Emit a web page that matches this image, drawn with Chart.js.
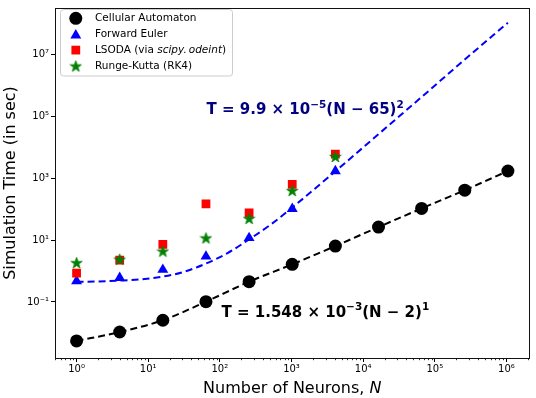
<!DOCTYPE html>
<html><head><meta charset="utf-8">
<script src="https://cdn.jsdelivr.net/npm/chart.js@4/dist/chart.umd.min.js"></script>
<style>html,body{margin:0;padding:0;background:#fff}#wrap{width:536px;height:398px}</style>
</head><body><div id="wrap"><canvas id="c" width="536" height="398"></canvas></div>
<script>
// ---- data ----
const neurons = [1, 4, 16, 64, 256, 1024, 4096, 16384, 65536, 262144, 1048576];
const odeNeurons = [1, 4, 16, 64, 256, 1024, 4096];
const cellularAutomaton = [0.0055, 0.0107, 0.0257, 0.102, 0.452, 1.64, 6.4, 26.3, 105, 407, 1700];
const forwardEuler = [0.47, 0.60, 1.10, 2.95, 11.7, 102, 1700];
const lsoda = [0.85, 2.24, 7.2, 148, 76, 631, 6000];
const rungeKutta = [1.86, 2.4, 4.4, 11.7, 50, 398, 5000];
const quadFitNeurons = [1, 2, 4, 8, 16, 32, 64, 128, 256, 512, 1024, 4096, 16384, 65536, 262144, 1048576];
const quadFitTime = [0.45, 0.46, 0.49, 0.54, 0.66, 0.95, 1.74, 3.8, 10.5, 31.6, 112, 1660, 26300, 417000, 6.76e6, 1.05e8];
const linFitNeurons = [1, 4, 16, 64, 256, 1024, 4096, 16384, 65536, 262144, 1048576];
const linFitTime = [0.0055, 0.0107, 0.0257, 0.102, 0.452, 1.64, 6.4, 26.3, 105, 407, 1700];
const xTickValues = [1, 10, 100, 1e3, 1e4, 1e5, 1e6];
const xTickLabels = ['10⁰', '10¹', '10²', '10³', '10⁴', '10⁵', '10⁶'];
const yTickValues = [0.1, 10, 1e3, 1e5, 1e7];
const yTickLabels = ['10⁻¹', '10¹', '10³', '10⁵', '10⁷'];
const seriesNames = ['Cellular Automaton', 'Forward Euler', 'LSODA (via scipy.odeint)', 'Runge-Kutta (RK4)'];
const xTitle = ['Number of Neurons, ', 'N'];
const yTitle = 'Simulation Time (in sec)';
const quadFitText = ['T = 9.9 × 10', '−5', '(N − 65)', '2'];
const linFitText = ['T = 1.548 × 10', '−3', '(N − 2)', '1'];

const FONT = '"DejaVu Sans", "Liberation Sans", sans-serif';

function pts(xs, ys) { return xs.map((x, i) => ({ x: x, y: ys[i] })); }

function makeStar(size, color) {
  const c = document.createElement('canvas');
  c.width = size; c.height = size;
  const g = c.getContext('2d');
  const cx = size / 2, cy = size / 2 + 0.6, R = size / 2 - 0.5, r = R * 0.382;
  g.beginPath();
  for (let i = 0; i < 10; i++) {
    const a = -Math.PI / 2 + i * Math.PI / 5;
    const rr = i % 2 ? r : R;
    g.lineTo(cx + rr * Math.cos(a), cy + rr * Math.sin(a));
  }
  g.closePath();
  g.fillStyle = color; g.fill();
  g.strokeStyle = color; g.lineWidth = 0.8; g.stroke();
  return c;
}
const starImg = makeStar(13, '#008000');

const datasets = [
  { label: seriesNames[0], data: pts(neurons, cellularAutomaton), pointStyle: 'circle', pointRadius: 6.5,
    backgroundColor: '#000', borderColor: '#000', borderWidth: 0, order: 4 },
  { label: seriesNames[1], data: pts(odeNeurons, forwardEuler), pointStyle: 'triangle', pointRadius: 6.3,
    backgroundColor: '#0000ff', borderColor: '#0000ff', borderWidth: 0, order: 3 },
  { label: seriesNames[2], data: pts(odeNeurons, lsoda), pointStyle: 'rect', pointRadius: 6.2,
    backgroundColor: '#ff0000', borderColor: '#ff0000', borderWidth: 0, order: 2 },
  { label: seriesNames[3], data: pts(odeNeurons, rungeKutta), pointStyle: starImg, pointRadius: 6,
    backgroundColor: '#008000', borderColor: '#008000', borderWidth: 0, order: 1 },
  { label: 'quad fit', data: pts(quadFitNeurons, quadFitTime), showLine: true, pointRadius: 0,
    borderColor: '#0000ff', borderWidth: 2, borderDash: [7, 4], cubicInterpolationMode: 'monotone', fill: false, order: 6 },
  { label: 'lin fit', data: pts(linFitNeurons, linFitTime), showLine: true, pointRadius: 0,
    borderColor: '#000', borderWidth: 2, borderDash: [7, 4], cubicInterpolationMode: 'monotone', fill: false, order: 5 }
];

function drawRich(ctx, x, y, segs) {
  let cx = x;
  for (const s of segs) {
    ctx.font = s.font;
    ctx.fillText(s.t, cx, y - (s.rise || 0));
    cx += ctx.measureText(s.t).width + (s.gap || 0);
  }
  return cx - x;
}

const decorPlugin = {
  id: 'decor',
  afterDatasetsDraw(chart) {
    const ctx = chart.ctx;
    const a = chart.chartArea;
    const xs = chart.scales.x;
    ctx.save();
    // minor ticks on x
    ctx.strokeStyle = '#000'; ctx.lineWidth = 0.8;
    for (let d = -1; d <= 6; d++) {
      for (let k = 2; k <= 9; k++) {
        const v = k * Math.pow(10, d);
        if (v < xs.min || v > xs.max) continue;
        const px = Math.round(xs.getPixelForValue(v)) + 0.5;
        ctx.beginPath(); ctx.moveTo(px, a.bottom); ctx.lineTo(px, a.bottom + 2.2); ctx.stroke();
      }
    }
    // spines
    ctx.strokeStyle = '#111'; ctx.lineWidth = 1;
    ctx.strokeRect(Math.round(a.left) + 0.5, Math.round(a.top) + 0.5, Math.round(a.right - a.left) - 1, Math.round(a.bottom - a.top) - 1 + 1);

    // annotations
    ctx.textBaseline = 'alphabetic'; ctx.textAlign = 'left';
    const big = 'bold 15px ' + FONT, sup = 'bold 10.5px ' + FONT;
    ctx.fillStyle = '#000080';
    drawRich(ctx, 206.5, 114, [
      { t: quadFitText[0], font: big }, { t: quadFitText[1], font: sup, rise: 6.5 },
      { t: quadFitText[2], font: big }, { t: quadFitText[3], font: sup, rise: 6.5 }]);
    ctx.fillStyle = '#000';
    drawRich(ctx, 221.5, 316.7, [
      { t: linFitText[0], font: big }, { t: linFitText[1], font: sup, rise: 6.5 },
      { t: linFitText[2], font: big }, { t: linFitText[3], font: sup, rise: 6.5 }]);

    // x title
    ctx.fillStyle = '#000';
    ctx.font = '16px ' + FONT;
    const w1 = ctx.measureText(xTitle[0]).width;
    ctx.font = 'italic 16px ' + FONT;
    const w2 = ctx.measureText(xTitle[1]).width;
    const cxT = (a.left + a.right) / 2;
    let sx = cxT - (w1 + w2) / 2;
    ctx.font = '16px ' + FONT; ctx.fillText(xTitle[0], sx, 393);
    ctx.font = 'italic 16px ' + FONT; ctx.fillText(xTitle[1], sx + w1, 393);

    // legend
    const lx = 60.5, ly = 9.5, lw = 172, lh = 66.5;
    ctx.beginPath();
    ctx.roundRect(lx, ly, lw, lh, 3);
    ctx.fillStyle = 'rgba(255,255,255,0.85)'; ctx.fill();
    ctx.strokeStyle = '#cccccc'; ctx.lineWidth = 1; ctx.stroke();
    const rows = [18.3, 34.2, 50.1, 66];
    const mx = 75.8, tx = 95;
    for (let i = 0; i < 4; i++) {
      const ds = chart.data.datasets[i];
      const y = rows[i];
      ctx.fillStyle = ds.backgroundColor; ctx.strokeStyle = ds.borderColor;
      if (i === 3) {
        ctx.drawImage(starImg, mx - starImg.width / 2, y - starImg.height / 2);
      } else {
        Chart.helpers.drawPoint(ctx, { pointStyle: ds.pointStyle, radius: ds.pointRadius, borderWidth: 0, rotation: 0 }, mx, y + (i === 1 ? 1.2 : 0));
      }
      ctx.fillStyle = '#000';
      ctx.textBaseline = 'middle';
      if (i === 2) {
        const name = seriesNames[2];
        const p1 = 'LSODA (via ', p2a = 'scipy.', p2b = 'odeint', p3 = ')';
        drawRich(ctx, tx, y, [
          { t: p1, font: '10.5px ' + FONT },
          { t: p2a, font: 'italic 10.5px ' + FONT, gap: 2 },
          { t: p2b, font: 'italic 10.5px ' + FONT },
          { t: p3, font: '10.5px ' + FONT }]);
      } else {
        ctx.font = '10.5px ' + FONT;
        ctx.fillText(seriesNames[i], tx, y);
      }
    }
    ctx.restore();
  }
};

new Chart(document.getElementById('c'), {
  type: 'scatter',
  data: { datasets: datasets },
  options: {
    responsive: false,
    animation: false,
    events: [],
    layout: { padding: { top: 5, right: 5, left: 0, bottom: 0 } },
    plugins: { legend: { display: false }, tooltip: { enabled: false } },
    scales: {
      x: {
        type: 'logarithmic', min: 0.5, max: 2.099e6,
        afterBuildTicks: s => { s.ticks = xTickValues.map(v => ({ value: v, major: true })); },
        afterFit: s => { s.height = 40; },
        ticks: { callback: (v, i) => xTickLabels[i], font: { family: FONT, size: 10 }, color: '#000',
                 padding: 1, maxRotation: 0, minRotation: 0, autoSkip: false },
        grid: { display: true, drawOnChartArea: false, drawTicks: true, tickLength: 4, color: '#000', tickWidth: 1 },
        border: { display: false }
      },
      y: {
        type: 'logarithmic', min: 0.00155, max: 3.12e8,
        afterBuildTicks: s => { s.ticks = yTickValues.map(v => ({ value: v, major: true })); },
        afterFit: s => { s.width = 55; },
        ticks: { callback: (v, i) => yTickLabels[i], font: { family: FONT, size: 10 }, color: '#000',
                 padding: 2, autoSkip: false },
        grid: { display: true, drawOnChartArea: false, drawTicks: true, tickLength: 4, color: '#000', tickWidth: 1 },
        border: { display: false },
        title: { display: true, text: yTitle, color: '#000', font: { family: FONT, size: 16, lineHeight: 1 },
                 padding: { top: 2.5, bottom: 0 } }
      }
    }
  },
  plugins: [decorPlugin]
});
</script>
</body></html>
